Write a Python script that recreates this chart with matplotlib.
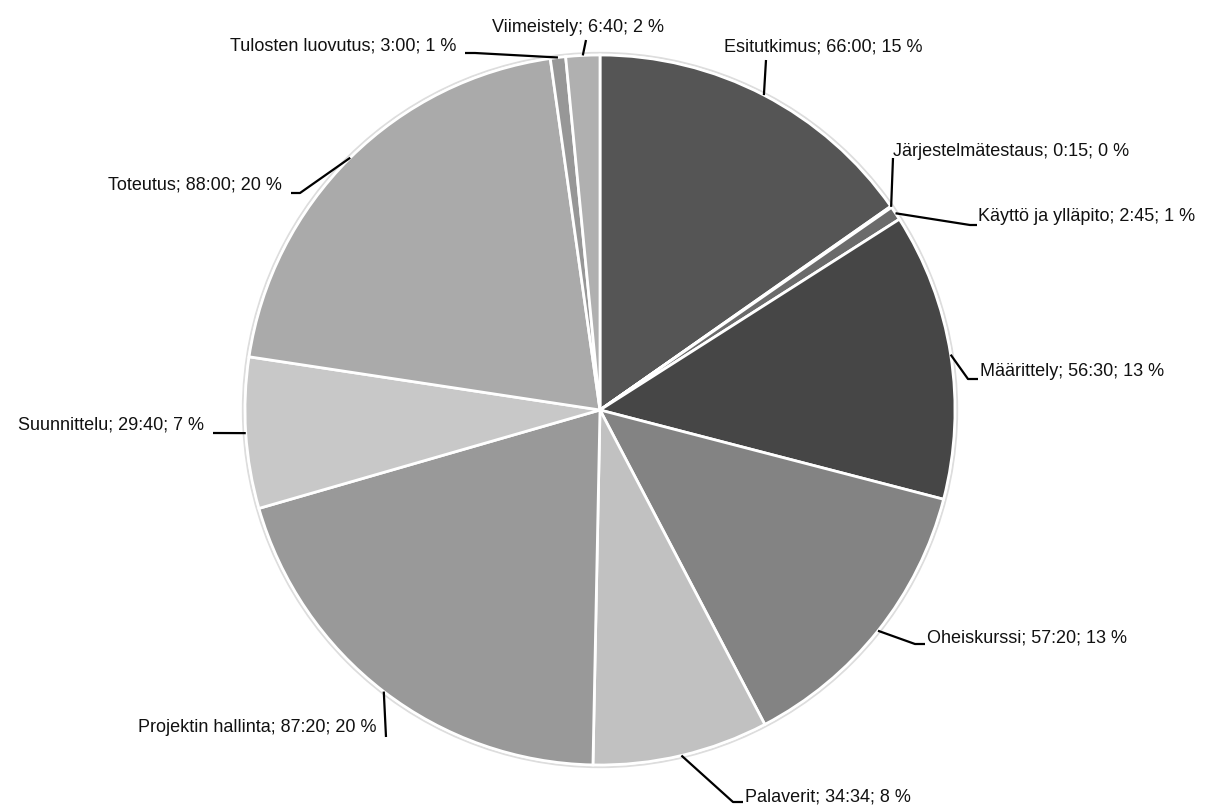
import numpy as np
import matplotlib
matplotlib.use("Agg")
import matplotlib.pyplot as plt
from matplotlib.patches import Circle

# task names, hours:minutes as text, and the minutes behind them
names = ["Esitutkimus", "Järjestelmätestaus", "Käyttö ja ylläpito", "Määrittely",
         "Oheiskurssi", "Palaverit", "Projektin hallinta", "Suunnittelu",
         "Toteutus", "Tulosten luovutus", "Viimeistely"]
times = ["66:00", "0:15", "2:45", "56:30", "57:20", "34:34", "87:20", "29:40",
         "88:00", "3:00", "6:40"]
minutes = [3960, 15, 165, 3390, 3440, 2074, 5240, 1780, 5280, 180, 400]
percents = ["15 %", "0 %", "1 %", "13 %", "13 %", "8 %", "20 %", "7 %", "20 %", "1 %", "2 %"]
colors = ["#555555", "#777777", "#6b6b6b", "#464646", "#838383", "#c1c1c1",
          "#999999", "#c8c8c8", "#aaaaaa", "#979797", "#b0b0b0"]

# layout in pixels: (text x, text y, ha, leader bend points after the rim)
layout = [
    (724, 47, "left", [(766, 60)]),
    (893, 152, "left", [(893, 158)]),
    (978, 217, "left", [(970, 225), (977, 225)]),
    (980, 372, "left", [(968, 379), (978, 379)]),
    (927, 638, "left", [(915, 644), (925, 644)]),
    (745, 797, "left", [(733, 802), (743, 802)]),
    (377, 728, "right", [(386, 737)]),
    (204, 425, "right", [(213, 433)]),
    (282, 185, "right", [(300, 193), (291, 193)]),
    (456, 46, "right", [(475, 53), (465, 53)]),
    (578, 27, "center", [(586, 40)]),
]

CX, CY, R = 600, 410, 355
W, H = 1215, 805


def px(x, y):
    return (x - CX) / R, (CY - y) / R


fig = plt.figure(figsize=(12.15, 8.05), dpi=100)
ax = fig.add_axes([0, 0, 1, 1])

ax.add_patch(Circle((0, 0), 1.006, facecolor="none", edgecolor="#dddddd", lw=1.5, zorder=0))
wedges, _ = ax.pie(minutes, colors=colors, startangle=90, counterclock=False,
                   radius=1, center=(0, 0),
                   wedgeprops=dict(edgecolor="white", linewidth=2))

for w, name, t, p, (tx, ty, ha, bends) in zip(wedges, names, times, percents, layout):
    mid = np.deg2rad((w.theta1 + w.theta2) / 2)
    pts = [(np.cos(mid), np.sin(mid))] + [px(bx, by) for bx, by in bends]
    xs, ys = zip(*pts)
    ax.plot(xs, ys, color="black", lw=1.6, solid_capstyle="butt", zorder=5)
    x, y = px(tx, ty)
    ax.text(x, y, f"{name}; {t}; {p}", ha=ha, va="center", fontsize=13,
            family=["Liberation Sans", "DejaVu Sans"], color="#111111")

ax.set_xlim(-CX / R, (W - CX) / R)
ax.set_ylim((CY - H) / R, CY / R)
ax.set_aspect("auto")
ax.axis("off")

fig.savefig("out.png", dpi=100, facecolor="white")
